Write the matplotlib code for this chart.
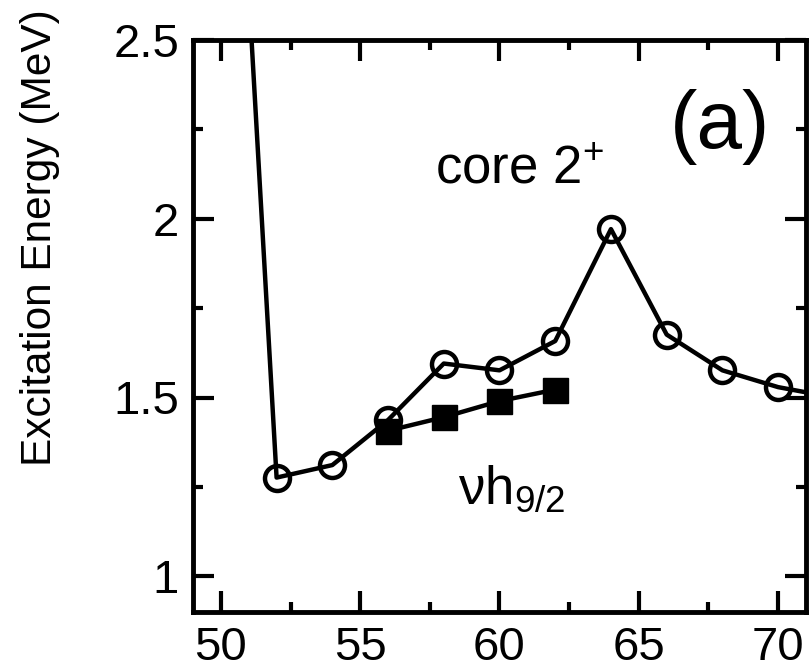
import numpy as np
import matplotlib
matplotlib.use('Agg')
import matplotlib.pyplot as plt
from matplotlib.ticker import MultipleLocator

plt.rcParams['font.family'] = ['Liberation Sans', 'DejaVu Sans']
plt.rcParams['mathtext.fontset'] = 'custom'
plt.rcParams['mathtext.rm'] = 'Liberation Sans'
plt.rcParams['mathtext.it'] = 'Liberation Sans'
plt.rcParams['mathtext.default'] = 'rm'

# core 2+ (open circles), neutron number N
n_core = [50, 52, 54, 56, 58, 60, 62, 64, 66, 68, 70, 72]
e_core = [4.00, 1.276, 1.311, 1.437, 1.595, 1.576, 1.658, 1.971, 1.676, 1.576, 1.529, 1.50]

# nu h9/2 (filled squares)
n_h92 = [56, 58, 60, 62]
e_h92 = [1.407, 1.445, 1.49, 1.522]

fig = plt.figure(figsize=(8.1, 6.72), dpi=100)
ax = fig.add_axes([193/810, 60/672, 613/810, 572/672])

ax.plot(n_core, e_core, '-', color='k', lw=3.2, marker='o', ms=18,
        mfc='none', mec='k', mew=3.2)
ax.plot(n_h92, e_h92, '-', color='k', lw=3.2, marker='s', ms=18,
        mfc='k', mec='k', mew=1)

ax.set_xlim(49, 71)
ax.set_ylim(0.9, 2.5)
ax.xaxis.set_major_locator(MultipleLocator(5))
ax.xaxis.set_minor_locator(MultipleLocator(2.5))
ax.yaxis.set_minor_locator(MultipleLocator(0.25))
ax.set_yticks([1, 1.5, 2, 2.5])
ax.set_yticklabels(['1', '1.5', '2', '2.5'])

ax.tick_params(which='both', direction='in', top=True, right=True, width=3)
ax.tick_params(which='major', length=15, labelsize=34)
ax.tick_params(which='minor', length=7)
ax.tick_params(axis='x', pad=10)
ax.tick_params(axis='y', pad=10)
for s in ax.spines.values():
    s.set_linewidth(3.5)

ax.text(57.67, 2.10, 'core 2$^{+}$', fontsize=38, ha='left', va='baseline')
ax.text(0.859, 0.811, '(a)', fontsize=59, ha='center', va='baseline',
        transform=ax.transAxes)
ax.text(58.5, 1.202, r'$\nu$h$_{9/2}$', fontsize=38, ha='left', va='baseline')

fig.text(40/810, 1 - 238/672, 'Excitation Energy (MeV)', fontsize=30.5,
         rotation=90, ha='center', va='center')

fig.savefig('out.png', dpi=100)
